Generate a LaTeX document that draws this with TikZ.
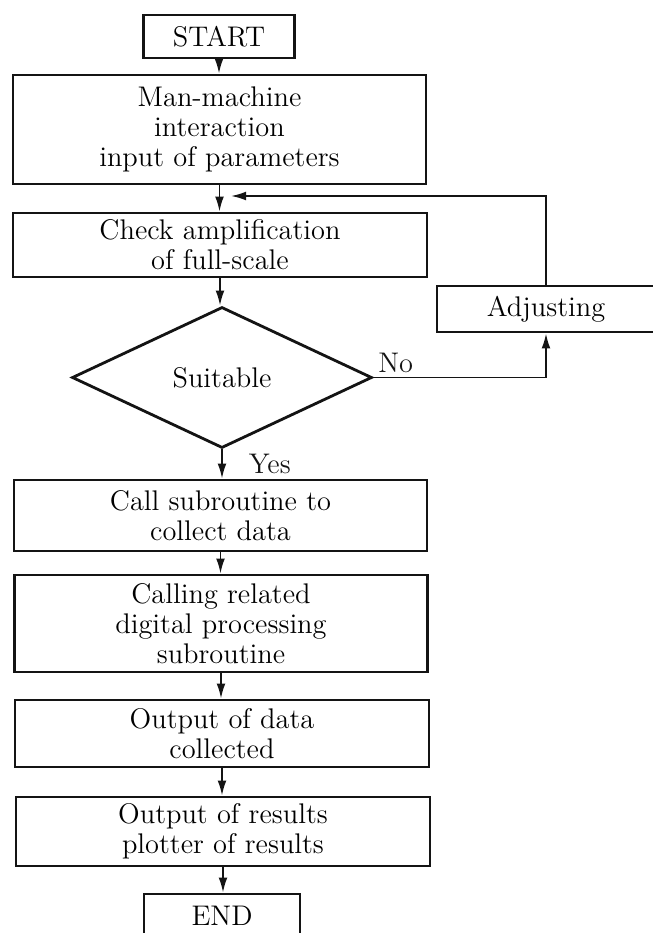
\documentclass[tikz,border=0pt]{standalone}
\usepackage{tikz}
\usetikzlibrary{
  arrows.meta,
  shapes.geometric,
  positioning
}
\usepackage{xcolor}
\definecolor{inkclr}{RGB}{20, 20, 20}
\tikzset{
  % Boxes
  procbox/.style  = {draw=inkclr, line width=1.4pt, rectangle, align=center,
                     inner sep=2pt, font=\fontsize{14.2}{14.9}\selectfont},
  termbox/.style  = {procbox},
  decbox/.style   = {draw=inkclr, line width=1.4pt, diamond, inner sep=0pt,
                     font=\fontsize{14.2}{14.9}\selectfont},
  % Arrows
  flowarrow/.style= {-{Latex[length=7.5pt,width=4.4pt]}, line width=0.9pt, inkclr},
  % Labels
  lbl/.style      = {font=\fontsize{14.2}{14.9}\selectfont, inner sep=1pt},
}
\begin{document}
\begin{tikzpicture}[x=0.5pt, y=-0.5pt]
  \clip (0,0) rectangle (653,933);
  % Chain of steps
  \node[termbox, minimum width=75.5pt, minimum height=21.5pt] (start) at (219,36.5) {START};
  \node[procbox, minimum width=206.5pt, minimum height=54.5pt] (input) at (219.5,129.5)
    {Man-machine\\interaction\\input of parameters};
  \node[procbox, minimum width=207pt, minimum height=32pt] (check) at (220,245)
    {Check amplification\\of full-scale};
  \node[decbox, minimum width=150pt, minimum height=70.5pt] (suit) at (222,377.5) {Suitable};
  \node[procbox, minimum width=109pt, minimum height=23pt] (adjust) at (546,309) {Adjusting};
  \node[procbox, minimum width=206.5pt, minimum height=35.5pt] (call) at (220.5,515.5)
    {Call subroutine to\\collect data};
  \node[procbox, minimum width=206.5pt, minimum height=48.5pt] (calling) at (221,623.5)
    {Calling related\\digital processing\\subroutine};
  \node[procbox, minimum width=207pt, minimum height=33.5pt] (outdata) at (222,733.5)
    {Output of data\\collected};
  \node[procbox, minimum width=207pt, minimum height=34.5pt] (outres) at (223,831.5)
    {Output of results\\plotter of results};
  \node[termbox, minimum width=78pt, minimum height=21.5pt] (end) at (222,915.5) {END};
  % Feedback point
  \coordinate (fb) at (231,196);
  % Connectors
  \draw[flowarrow] (start.south) -- (start.south |- input.north);
  \draw[flowarrow] (input.south) -- (input.south |- check.north);
  \draw[flowarrow] (check.south) -- (check.south |- suit.north);
  \draw[flowarrow] (suit.east) node[lbl, above right=1pt and 1pt] {No} -| (adjust.south);
  \draw[flowarrow] (adjust.north) |- (fb);
  \draw[flowarrow] (suit.south) -- (suit.south |- call.north)
    node[lbl, midway, right=12pt] {Yes};
  \draw[flowarrow] (call.south) -- (call.south |- calling.north);
  \draw[flowarrow] (calling.south) -- (calling.south |- outdata.north);
  \draw[flowarrow] (outdata.south) -- (outdata.south |- outres.north);
  \draw[flowarrow] (outres.south) -- (outres.south |- end.north);
\end{tikzpicture}
\end{document}
